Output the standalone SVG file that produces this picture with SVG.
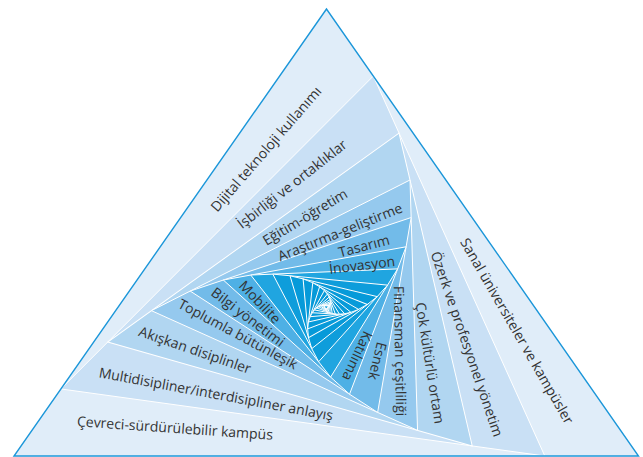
<svg xmlns="http://www.w3.org/2000/svg" xmlns:xlink="http://www.w3.org/1999/xlink" width="643" height="457" viewBox="0 0 643 457">
<style>
.l0{fill:#e0edf9}.l1{fill:#c9e0f5}.l2{fill:#b1d6f1}.l3{fill:#95c9ee}.l4{fill:#72bbe9}.l5{fill:#4eb0e5}.l6{fill:#20a5e0}.l7{fill:#0e9ddb}.l8{fill:#069ad9}
.lbl{font-family:"Open Sans","Noto Sans",sans-serif;font-size:14px;fill:#333;text-anchor:middle}
</style>
<defs>
<polygon id="t" points="326.5,9 14,456 638.5,456" stroke="#fff" stroke-width="1" vector-effect="non-scaling-stroke"/>
</defs>
<rect width="643" height="457" fill="#fff"/>
<g id="spiral">
<use xlink:href="#t" class="l0"/>
<g transform="matrix(0.77494 0.10737 -0.15717 0.77506 121.696 34.020)"><use xlink:href="#t" class="l1"/>
<g transform="matrix(0.77494 0.10737 -0.15717 0.77506 121.696 34.020)"><use xlink:href="#t" class="l2"/>
<g transform="matrix(0.77494 0.10737 -0.15717 0.77506 121.696 34.020)"><use xlink:href="#t" class="l3"/>
<g transform="matrix(0.77494 0.10737 -0.15717 0.77506 121.696 34.020)"><use xlink:href="#t" class="l4"/>
<g transform="matrix(0.77494 0.10737 -0.15717 0.77506 121.696 34.020)"><use xlink:href="#t" class="l5"/>
<g transform="matrix(0.77494 0.10737 -0.15717 0.77506 121.696 34.020)"><use xlink:href="#t" class="l6"/>
<g transform="matrix(0.77494 0.10737 -0.15717 0.77506 121.696 34.020)"><use xlink:href="#t" class="l7"/>
<g transform="matrix(0.77494 0.10737 -0.15717 0.77506 121.696 34.020)"><use xlink:href="#t" class="l8"/>
<g transform="matrix(0.77494 0.10737 -0.15717 0.77506 121.696 34.020)"><use xlink:href="#t" class="l8"/>
<g transform="matrix(0.77494 0.10737 -0.15717 0.77506 121.696 34.020)"><use xlink:href="#t" class="l8"/>
<g transform="matrix(0.77494 0.10737 -0.15717 0.77506 121.696 34.020)"><use xlink:href="#t" class="l8"/>
<g transform="matrix(0.77494 0.10737 -0.15717 0.77506 121.696 34.020)"><use xlink:href="#t" class="l8"/>
<g transform="matrix(0.77494 0.10737 -0.15717 0.77506 121.696 34.020)"><use xlink:href="#t" class="l8"/>
<g transform="matrix(0.77494 0.10737 -0.15717 0.77506 121.696 34.020)"><use xlink:href="#t" class="l8"/>
<g transform="matrix(0.77494 0.10737 -0.15717 0.77506 121.696 34.020)"><use xlink:href="#t" class="l8"/>
<g transform="matrix(0.77494 0.10737 -0.15717 0.77506 121.696 34.020)"><use xlink:href="#t" class="l8"/>
<g transform="matrix(0.77494 0.10737 -0.15717 0.77506 121.696 34.020)"><use xlink:href="#t" class="l8"/>
<g transform="matrix(0.77494 0.10737 -0.15717 0.77506 121.696 34.020)"><use xlink:href="#t" class="l8"/>
<g transform="matrix(0.77494 0.10737 -0.15717 0.77506 121.696 34.020)"><use xlink:href="#t" class="l8"/>
<g transform="matrix(0.77494 0.10737 -0.15717 0.77506 121.696 34.020)"><use xlink:href="#t" class="l8"/>
</g></g></g></g></g></g></g></g></g></g></g></g></g></g></g></g></g></g></g></g>
<polygon points="326.5,9 14,456 638.5,456" fill="none" stroke="#1b96d9" stroke-width="1.4"/>
</g>
<g id="labels">
<g id="left">
<text class="lbl" transform="translate(266,149) rotate(-49)" y="5">Dijital teknoloji kullanımı</text>
<text class="lbl" transform="translate(292,184) rotate(-38)" y="5">İşbirliği ve ortaklıklar</text>
<text class="lbl" transform="translate(305,217) rotate(-31)" y="5">Eğitim-öğretim</text>
<text class="lbl" transform="translate(340,232) rotate(-22)" y="5">Araştırma-geliştirme</text>
<text class="lbl" transform="translate(364,246) rotate(-15)" y="5">Tasarım</text>
<text class="lbl" transform="translate(362,265) rotate(-7)" y="5">İnovasyon</text>
</g>
<g id="right">
<text class="lbl" transform="translate(517,331) rotate(60)" y="5">Sanal üniversiteler ve kampüsler</text>
<text class="lbl" transform="translate(467,344) rotate(71)" y="5">Özerk ve profesyonel yönetim</text>
<text class="lbl" transform="translate(430,363) rotate(81)" y="5">Çok kültürlü ortam</text>
<text class="lbl" transform="translate(400,351) rotate(89)" y="5">Finansman çeşitliliği</text>
<text class="lbl" transform="translate(377.5,361) rotate(104)" y="5">Esnek</text>
<text class="lbl" transform="translate(357.5,356) rotate(115)" y="5">Katılıma</text>
</g>
<g id="bottom">
<text class="lbl" transform="translate(175,428) rotate(4)" y="5">Çevreci-sürdürülebilir kampüs</text>
<text class="lbl" transform="translate(216,394) rotate(10.5)" y="5">Multidisipliner/interdisipliner anlayış</text>
<text class="lbl" transform="translate(195,350) rotate(19)" y="5">Akışkan disiplinler</text>
<text class="lbl" transform="translate(238,334) rotate(28)" y="5">Toplumla bütünleşik</text>
<text class="lbl" transform="translate(248,317) rotate(37)" y="5">Bilgi yönetimi</text>
<text class="lbl" transform="translate(260,302) rotate(46)" y="5">Mobilite</text>
</g>
</g>
</svg>
